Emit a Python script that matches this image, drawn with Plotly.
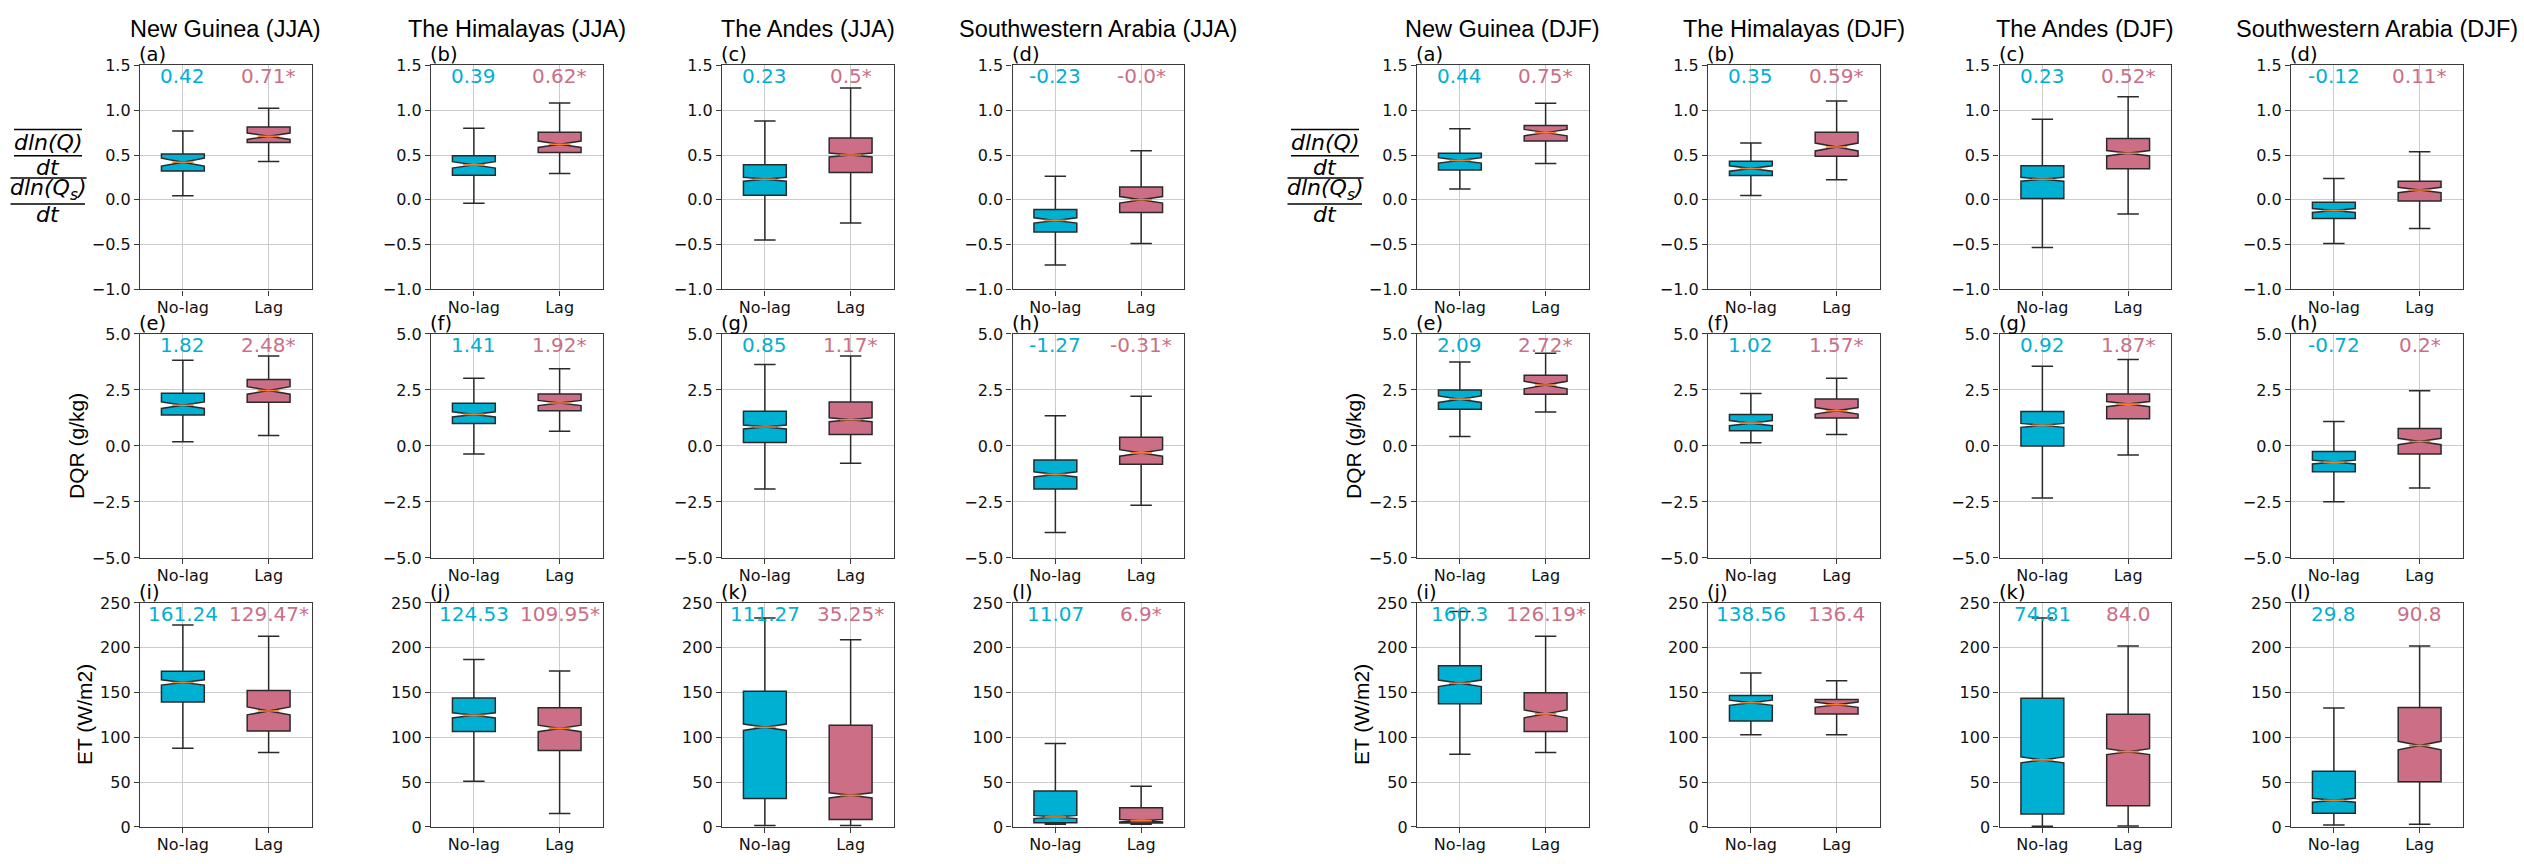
import plotly.graph_objects as go

FIG_W, FIG_H = 2524, 864

REGIONS = ["New Guinea", "The Himalayas", "The Andes", "Southwestern Arabia"]
SEASONS = ["JJA", "DJF"]
GROUPS = ["No-lag", "Lag"]
POSITIONS = [1, 2]
LETTERS = list("abcdefghijkl")

# Box statistics per region:
# [lower whisker, Q1, median, Q3, upper whisker, notch half-span]
JJA_RATIO_NOLAG = [[0.044, 0.321, 0.42, 0.51, 0.769, 0.044],
                   [-0.039, 0.274, 0.39, 0.492, 0.798, 0.036],
                   [-0.45, 0.052, 0.23, 0.39, 0.881, 0.022],
                   [-0.727, -0.36, -0.23, -0.108, 0.263, 0.03]]
JJA_RATIO_LAG = [[0.427, 0.641, 0.71, 0.812, 1.023, 0.036],
                 [0.295, 0.528, 0.62, 0.754, 1.082, 0.036],
                 [-0.258, 0.306, 0.5, 0.689, 1.249, 0.022],
                 [-0.487, -0.141, -0.0, 0.143, 0.547, 0.036]]
DJF_RATIO_NOLAG = [[0.121, 0.332, 0.44, 0.521, 0.794, 0.03],
                   [0.048, 0.27, 0.35, 0.43, 0.634, 0.03],
                   [-0.531, 0.015, 0.23, 0.379, 0.9, 0.022],
                   [-0.487, -0.21, -0.12, -0.028, 0.237, 0.022]]
DJF_RATIO_LAG = [[0.405, 0.656, 0.75, 0.83, 1.078, 0.036],
                 [0.223, 0.485, 0.59, 0.754, 1.103, 0.044],
                 [-0.159, 0.346, 0.52, 0.685, 1.151, 0.03],
                 [-0.32, -0.014, 0.11, 0.208, 0.536, 0.03]]

JJA_DQR_NOLAG = [[0.189, 1.381, 1.82, 2.355, 3.823, 0.145],
                 [-0.363, 1.003, 1.41, 1.904, 3.023, 0.116],
                 [-1.919, 0.16, 0.85, 1.555, 3.634, 0.087],
                 [-3.866, -1.919, -1.27, -0.625, 1.352, 0.116]]
JJA_DQR_LAG = [[0.465, 1.948, 2.48, 2.965, 4.012, 0.17],
               [0.654, 1.57, 1.92, 2.326, 3.445, 0.116],
               [-0.77, 0.509, 1.17, 1.962, 4.012, 0.087],
               [-2.645, -0.814, -0.31, 0.392, 2.224, 0.145]]
DJF_DQR_NOLAG = [[0.421, 1.642, 2.09, 2.5, 3.75, 0.145],
                 [0.145, 0.683, 1.02, 1.41, 2.34, 0.116],
                 [-2.326, 0.0, 0.92, 1.541, 3.561, 0.087],
                 [-2.486, -1.148, -0.72, -0.247, 1.09, 0.087]]
DJF_DQR_LAG = [[1.512, 2.311, 2.72, 3.154, 4.142, 0.17],
               [0.509, 1.25, 1.57, 2.093, 3.023, 0.145],
               [-0.407, 1.221, 1.87, 2.326, 3.866, 0.116],
               [-1.875, -0.363, 0.2, 0.785, 2.471, 0.145]]

JJA_ET_NOLAG = [[87.9, 139.5, 161.24, 173.7, 225.3, 2.9],
                [50.9, 106.5, 124.53, 143.9, 186.8, 2.9],
                [1.45, 31.6, 111.27, 151.5, 233.3, 3.6],
                [2.9, 4.7, 11.07, 40.0, 93.0, 1.8]]
JJA_ET_LAG = [[83.2, 107.2, 129.47, 152.3, 212.9, 4.4],
              [14.9, 85.4, 109.95, 133.0, 174.1, 3.6],
              [1.45, 8.4, 35.25, 113.4, 208.9, 2.9],
              [2.9, 4.4, 6.9, 21.4, 45.4, 1.5]]
DJF_ET_NOLAG = [[81.0, 137.4, 160.3, 179.9, 240.5, 3.6],
                [102.8, 118.1, 138.56, 146.8, 171.9, 2.9],
                [0.7, 14.5, 74.81, 143.5, 233.3, 3.3],
                [2.2, 15.3, 29.8, 62.1, 132.6, 2.2]]
DJF_ET_LAG = [[83.2, 106.5, 126.19, 149.7, 212.9, 4.4],
              [102.8, 126.1, 136.4, 142.1, 163.2, 2.9],
              [1.1, 23.6, 84.0, 125.7, 202.0, 3.3],
              [2.9, 50.5, 90.8, 133.4, 202.0, 4.7]]

# Significance of the Lag median per region
JJA_RATIO_SIG = [True, True, True, True]
JJA_DQR_SIG = [True, True, True, True]
JJA_ET_SIG = [True, True, True, True]
DJF_RATIO_SIG = [True, True, True, True]
DJF_DQR_SIG = [True, True, True, True]
DJF_ET_SIG = [True, False, False, False]

# Y axis setup per row
RATIO_TICKS = [-1.0, -0.5, 0.0, 0.5, 1.0, 1.5]
DQR_TICKS = [-5.0, -2.5, 0.0, 2.5, 5.0]
ET_TICKS = [0, 50, 100, 150, 200, 250]

ROWS = [
    dict(ticks=RATIO_TICKS, fmt="{:.1f}",
         data={"JJA": (JJA_RATIO_NOLAG, JJA_RATIO_LAG, JJA_RATIO_SIG),
               "DJF": (DJF_RATIO_NOLAG, DJF_RATIO_LAG, DJF_RATIO_SIG)}),
    dict(ticks=DQR_TICKS, fmt="{:.1f}",
         data={"JJA": (JJA_DQR_NOLAG, JJA_DQR_LAG, JJA_DQR_SIG),
               "DJF": (DJF_DQR_NOLAG, DJF_DQR_LAG, DJF_DQR_SIG)}),
    dict(ticks=ET_TICKS, fmt="{:d}",
         data={"JJA": (JJA_ET_NOLAG, JJA_ET_LAG, JJA_ET_SIG),
               "DJF": (DJF_ET_NOLAG, DJF_ET_LAG, DJF_ET_SIG)}),
]

BOX_COLORS = ["#00B0D2", "#CB6E86"]
MEDIAN_COLOR = "#F47D2A"
EDGE = "#2a2a2a"
SPINE = "#3a3a3a"
GRID = "#cbcbcb"
BOX_WIDTH = 0.5

TICK_FONT = dict(family="DejaVu Sans", size=16, color="#111")
VALUE_FONT_SIZE = 20
SANS = "Arial, Liberation Sans, sans-serif"

# Subplot geometry in pixels
COL_LEFT = [140, 431, 722, 1012.5, 1417, 1708, 1999.5, 2291]
ROW_TOP = [57.7, 332.3, 607.3]
AX_W, AX_H = 171.5, 229.0


def px_x(x):
    return x / FIG_W


def px_y(y):
    return 1 - y / FIG_H


def fmt_tick(v, fmt):
    s = fmt.format(v)
    return s.replace("-", "\u2212")


fig = go.Figure()
layout = dict(
    width=FIG_W, height=FIG_H,
    margin=dict(l=0, r=0, t=0, b=0),
    paper_bgcolor="white", plot_bgcolor="white",
    showlegend=False,
)
annotations = []
shapes = []

for r, row in enumerate(ROWS):
    for si, season in enumerate(SEASONS):
        nolag, lag, sig = row["data"][season]
        for ri in range(4):
            c = si * 4 + ri
            k = r * 8 + c + 1
            sfx = "" if k == 1 else str(k)
            left = COL_LEFT[c]
            top = ROW_TOP[r]
            layout["xaxis" + sfx] = dict(
                domain=[px_x(left), px_x(left + AX_W)], anchor="y" + sfx,
                range=[0.5, 2.5], tickvals=POSITIONS, ticktext=GROUPS,
                showgrid=True, gridcolor=GRID, gridwidth=1,
                showline=True, mirror=True, linecolor=SPINE, linewidth=1.4,
                ticks="outside", ticklen=5, tickwidth=1.2, tickcolor=SPINE,
                ticklabelstandoff=-2,
                tickfont=TICK_FONT, zeroline=False, fixedrange=True,
            )
            ticks = row["ticks"]
            layout["yaxis" + sfx] = dict(
                domain=[px_y(top + AX_H), px_y(top)], anchor="x" + sfx,
                range=[ticks[0], ticks[-1]], tickvals=ticks,
                ticktext=[fmt_tick(t, row["fmt"]) for t in ticks],
                showgrid=True, gridcolor=GRID, gridwidth=1,
                showline=True, mirror=True, linecolor=SPINE, linewidth=1.4,
                ticks="outside", ticklen=5, tickwidth=1.2, tickcolor=SPINE,
                tickfont=TICK_FONT, zeroline=False, fixedrange=True,
            )
            for g, stats in enumerate((nolag[ri], lag[ri])):
                lo, q1, med, q3, hi, notch = stats
                pos = POSITIONS[g]
                fig.add_trace(go.Box(
                    x=[pos], lowerfence=[lo], q1=[q1], median=[med], q3=[q3],
                    upperfence=[hi], notchspan=[notch], notched=True,
                    notchwidth=0.5, width=BOX_WIDTH, whiskerwidth=0.5,
                    fillcolor=BOX_COLORS[g], line=dict(color=EDGE, width=1.5),
                    boxpoints=False, hoverinfo="skip",
                    xaxis="x" + sfx, yaxis="y" + sfx,
                ))
                fig.add_trace(go.Scatter(
                    x=[pos - BOX_WIDTH / 4, pos + BOX_WIDTH / 4], y=[med, med],
                    mode="lines", line=dict(color=MEDIAN_COLOR, width=1.6),
                    hoverinfo="skip", xaxis="x" + sfx, yaxis="y" + sfx,
                ))
                label = str(med) + ("*" if (g == 1 and sig[ri]) else "")
                annotations.append(dict(
                    text=label, x=pos, xref="x" + sfx, y=0.952,
                    yref=f"y{sfx} domain", xanchor="center", yanchor="middle",
                    showarrow=False,
                    font=dict(family="DejaVu Sans", size=VALUE_FONT_SIZE,
                              color=BOX_COLORS[g]),
                ))
            # panel letter
            annotations.append(dict(
                text=f"({LETTERS[r * 4 + ri]})", x=0, xref=f"x{sfx} domain",
                y=1, yref=f"y{sfx} domain", xanchor="left", yanchor="bottom",
                showarrow=False, borderpad=0, yshift=-2, xshift=-2,
                font=dict(family="DejaVu Sans", size=19.5, color="#000"),
            ))
            # column title
            if r == 0:
                annotations.append(dict(
                    text=f"{REGIONS[ri]} ({season})",
                    x=px_x(left + AX_W / 2), xref="paper",
                    y=px_y(20), yref="paper", xanchor="center",
                    yanchor="middle", showarrow=False,
                    font=dict(family=SANS, size=23.5, color="#000"),
                ))

# Row labels, drawn once for each season block
for si in range(2):
    ax_left = COL_LEFT[si * 4]
    annotations.append(dict(
        text="DQR (g/kg)", x=px_x(ax_left - 63), xref="paper",
        y=px_y(ROW_TOP[1] + AX_H / 2), yref="paper", textangle=-90,
        xanchor="center", yanchor="middle", showarrow=False,
        font=dict(family=SANS, size=21, color="#000"),
    ))
    annotations.append(dict(
        text="ET (W/m2)", x=px_x(ax_left - 55), xref="paper",
        y=px_y(ROW_TOP[2] + AX_H / 2), yref="paper", textangle=-90,
        xanchor="center", yanchor="middle", showarrow=False,
        font=dict(family=SANS, size=21, color="#000"),
    ))
    # stacked fraction: overline(dln(Q)/dt) over dln(Q_s)/dt
    cx = ax_left - 92
    top = ROW_TOP[0]
    math_font = dict(family="DejaVu Sans", size=22, color="#000")
    for txt, dy in [("<i>dln(Q)</i>", 79), ("<i>dt</i>", 104),
                    ("<i>dln(Q<sub>s</sub>)</i>", 127), ("<i>dt</i>", 152.5)]:
        annotations.append(dict(
            text=txt, x=px_x(cx), xref="paper", y=px_y(top + dy),
            yref="paper", xanchor="center", yanchor="middle",
            showarrow=False, font=math_font,
        ))
    for x0, x1, dy in [(-126, -58, 65.6), (-126, -58, 92.3),
                       (-129.5, -53.5, 115.0), (-129.5, -55, 141.6)]:
        shapes.append(dict(
            type="line", xref="paper", yref="paper",
            x0=px_x(ax_left + x0), x1=px_x(ax_left + x1),
            y0=px_y(top + dy), y1=px_y(top + dy),
            line=dict(color="#000", width=1.5),
        ))

layout["annotations"] = annotations
layout["shapes"] = shapes
fig.update_layout(**layout)

fig.write_html("out.html")
